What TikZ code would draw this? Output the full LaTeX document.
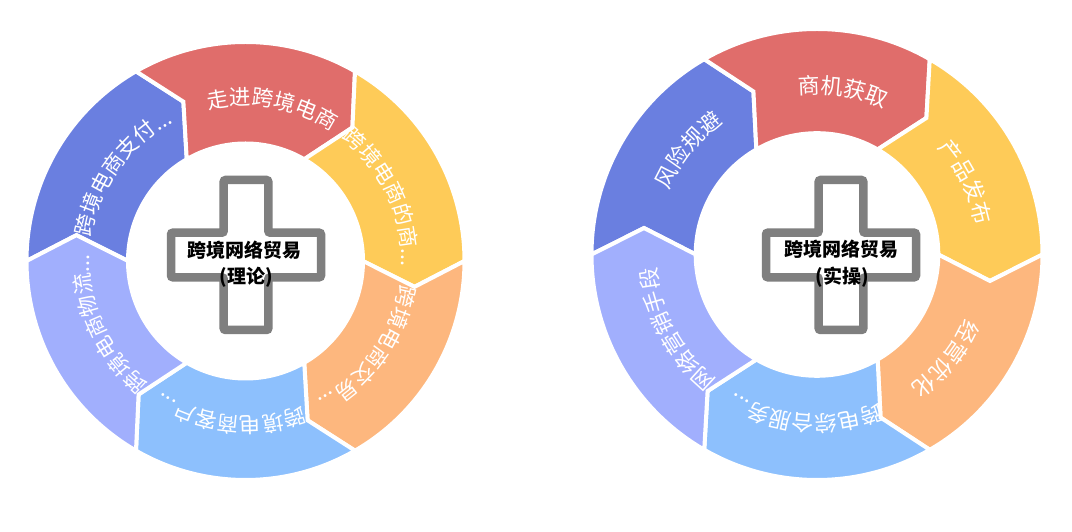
\documentclass[tikz,border=0pt]{standalone}
\usepackage{fontspec}
\newfontfamily\cjk{Noto Sans CJK SC}
\usetikzlibrary{decorations.text}
\definecolor{cRed}{HTML}{E06D6B}
\definecolor{cYellow}{HTML}{FECB58}
\definecolor{cOrange}{HTML}{FDB77E}
\definecolor{cLightBlue}{HTML}{8DC0FD}
\definecolor{cPeri}{HTML}{A1AFFD}
\definecolor{cBlue}{HTML}{6A7FE0}
\definecolor{crossgray}{HTML}{7F7F7F}
\tikzset{
  seggap/.style={draw=white, line width=4pt, line join=miter},
  crossline/.style={draw=crossgray, fill=white, line width=8.5pt, rounded corners=2pt},
  centertext/.style={font=\cjk\bfseries\fontsize{19}{19}\selectfont, text=black, inner sep=0pt},
}
% #1 R, #2 r, #3 rm, #4 start angle, #5 colour
\newcommand\mkseg[5]{%
  \filldraw[fill=#5, seggap] (#4:#1) arc[start angle=#4, end angle=#4-60, radius=#1]
    -- (#4-68.7:#3) -- (#4-60:#2) arc[start angle=#4-60, end angle=#4, radius=#2]
    -- (#4-8.7:#3) -- cycle;}
% #1 baseline radius, #2 centre angle, #3 text, #4 font size
\newcommand\ringtext[4]{%
  \path[decorate, decoration={text along path, text align=center,
      text={|\cjk\fontsize{#4}{#4}\selectfont\color{white}|#3}}]
    (#2+45:#1) arc[start angle=#2+45, end angle=#2-45, radius=#1];}
\newcommand\crosspath{(-22.3,75) -- (22.3,75) -- (22.3,22.3) -- (75,22.3) -- (75,-22.3)
  -- (22.3,-22.3) -- (22.3,-75) -- (-22.3,-75) -- (-22.3,-22.3) -- (-75,-22.3)
  -- (-75,22.3) -- (-22.3,22.3) -- cycle}
\begin{document}
\begin{tikzpicture}[x=1pt, y=1pt]
\useasboundingbox (0,0) rectangle (1072,532);
\fill[white] (0,0) rectangle (1072,532);
% ---------- left ring ----------
\begin{scope}[shift={(245.5,271)}]
  \mkseg{219}{117.5}{171}{180}{cBlue}
  \mkseg{219}{117.5}{171}{120}{cRed}
  \mkseg{219}{117.5}{171}{60}{cYellow}
  \mkseg{219}{117.5}{171}{0}{cOrange}
  \mkseg{219}{117.5}{171}{-60}{cLightBlue}
  \mkseg{219}{117.5}{171}{-120}{cPeri}
  \ringtext{156}{80}{走进跨境电商}{21.5}
  \ringtext{156}{25}{跨境电商的商...}{21.5}
  \ringtext{156}{-35.5}{跨境电商交易...}{21.5}
  \ringtext{156}{-95.5}{跨境电商客户...}{21.5}
  \ringtext{156}{-155.5}{跨境电商物流...}{21.5}
  \ringtext{156}{144.5}{跨境电商支付...}{21.5}
\end{scope}
\draw[crossline, shift={(246,277)}] \crosspath;
\node[centertext] (titleL) at (244,282) {跨境网络贸易};
\node[centertext] (subL) at (246,255) {(理论)};
% ---------- right ring ----------
\begin{scope}[shift={(817,277.5)}]
  \mkseg{225.5}{121.3}{175}{180}{cBlue}
  \mkseg{225.5}{121.3}{175}{120}{cRed}
  \mkseg{225.5}{121.3}{175}{60}{cYellow}
  \mkseg{225.5}{121.3}{175}{0}{cOrange}
  \mkseg{225.5}{121.3}{175}{-60}{cLightBlue}
  \mkseg{225.5}{121.3}{175}{-120}{cPeri}
  \ringtext{161}{81}{商机获取}{22}
  \ringtext{161}{26}{产品发布}{22}
  \ringtext{161}{-39}{经营优化}{22}
  \ringtext{161}{-94}{跨电综合服务...}{22}
  \ringtext{161}{-152}{网络营销手段}{22}
  \ringtext{161}{141}{风险规避}{22}
\end{scope}
\draw[crossline, shift={(841,277)}] \crosspath;
\node[centertext] (titleR) at (841,283) {跨境网络贸易};
\node[centertext] (subR) at (842,255) {(实操)};
\end{tikzpicture}
\end{document}
